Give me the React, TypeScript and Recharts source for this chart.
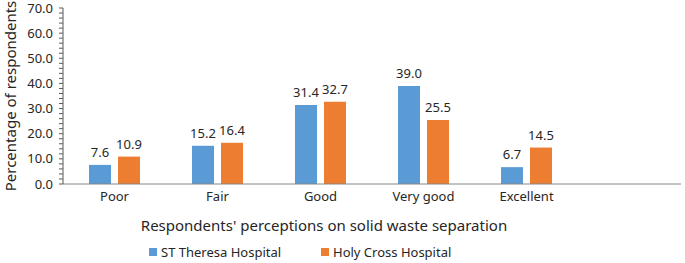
import { BarChart, Bar, XAxis, YAxis, Legend, LabelList } from 'recharts'

const categories = ['Poor', 'Fair', 'Good', 'Very good', 'Excellent', '']
const stTheresa = [7.6, 15.2, 31.4, 39.0, 6.7, null]
const holyCross = [10.9, 16.4, 32.7, 25.5, 14.5, null]
const yTicks = [0, 2, 4, 6, 8, 10, 12, 14, 16, 18, 20, 22, 24, 26, 28, 30, 32, 34, 36, 38, 40, 42, 44, 46, 48, 50, 52, 54, 56, 58, 60, 62, 64, 66, 68, 70]

const data = categories.map((name, i) => ({ name, st: stTheresa[i], hc: holyCross[i] }))

const FONT = '"Noto Sans", sans-serif'
const TEXT = '#262626'

function LegendBox() {
  const item = (color: string, label: string, left: number) => (
    <div style={{ position: 'absolute', left, top: 4, display: 'flex', alignItems: 'center' }}>
      <div style={{ width: 8, height: 8, background: color, marginRight: 4 }} />
      <span style={{ fontSize: 13, color: TEXT, fontFamily: FONT, lineHeight: '14px' }}>{label}</span>
    </div>
  )
  return (
    <div style={{ position: 'relative', width: 685, height: 22 }}>
      {item('#5B9BD5', 'ST Theresa Hospital', 149)}
      {item('#ED7D31', 'Holy Cross Hospital', 321)}
    </div>
  )
}

function YTitle(props: any) {
  const vb = props.viewBox || {}
  const cx = 10
  const cy = (vb.y ?? 6) + (vb.height ?? 178) / 2
  return (
    <text
      x={cx}
      y={cy}
      transform={`rotate(-90, ${cx}, ${cy})`}
      textAnchor="middle"
      dominantBaseline="central"
      fill={TEXT}
      fontSize={15}
      fontFamily={FONT}
    >
      Percentage of respondents
    </text>
  )
}

export default function App() {
  return (
    <div style={{ position: 'absolute', left: 0, top: 0, background: '#fff' }}>
      <BarChart
        width={685}
        height={263}
        data={data}
        margin={{ top: 8, right: 4, left: 0, bottom: 0 }}
        barSize={22}
        barGap={7}
        style={{ fontFamily: FONT }}
      >
        <XAxis
          dataKey="name"
          height={57}
          tickLine={false}
          stroke="#868686"
          tick={{ fill: TEXT, fontSize: 13 }}
          label={{
            value: "Respondents' perceptions on solid waste separation",
            position: 'insideBottom',
            offset: 10,
            dx: -48,
            fill: TEXT,
            fontSize: 15,
          }}
        />
        <YAxis
          width={63}
          domain={[0, 70]}
          ticks={yTicks}
          interval={0}
          tickSize={4}
          tickMargin={6}
          stroke="#595959"
          tickFormatter={(v: number) => (v % 10 === 0 ? v.toFixed(1) : '')}
          tick={{ fill: TEXT, fontSize: 13 }}
          label={<YTitle />}
        />
        <Legend verticalAlign="bottom" content={() => <LegendBox />} wrapperStyle={{ left: 0, width: 685 }} />
        <Bar dataKey="st" fill="#5B9BD5" isAnimationActive={false}>
          <LabelList dataKey="st" position="top" offset={8} fill={TEXT} fontSize={13} formatter={(v: any) => (v == null ? '' : Number(v).toFixed(1))} />
        </Bar>
        <Bar dataKey="hc" fill="#ED7D31" isAnimationActive={false}>
          <LabelList dataKey="hc" position="top" offset={8} fill={TEXT} fontSize={13} formatter={(v: any) => (v == null ? '' : Number(v).toFixed(1))} />
        </Bar>
      </BarChart>
    </div>
  )
}
